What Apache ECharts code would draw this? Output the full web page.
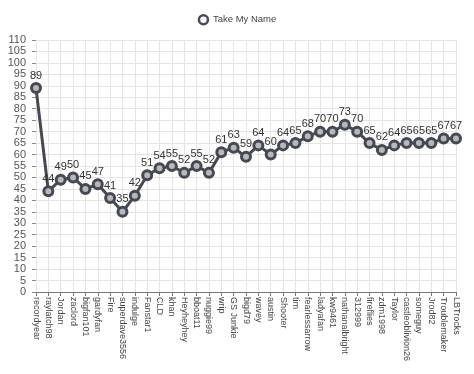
<!DOCTYPE html>
<html><head><meta charset="utf-8">
<script src="https://cdn.jsdelivr.net/npm/echarts@6/dist/echarts.min.js"></script>
<style>html,body{margin:0;padding:0;background:#fff}#c{width:474px;height:374px}</style>
</head><body><div id="c"></div>
<script>
const categories = ["recordyear","raylatch98","Jordan","zaclord","bigfan101","gardyfan","Fire","superdave3556","indulge","Fanstar1","CLD","khan","Heyheyhey","bboat11","nuggie99","wrip","GS Junkie","bigd79","wavey","austin","Shooter","tim","fearlessarrow","ladyafan","kw9461","nathanalbright","312999","fireflies","zdm1998","Taylor","castleoblivion26","someguy","Jrod82","Troublemaker","LBTrocks"];
const values = [89,44,49,50,45,47,41,35,42,51,54,55,52,55,52,61,63,59,64,60,64,65,68,70,70,73,70,65,62,64,65,65,65,67,67];
const seriesName = "Take My Name";
const chart = echarts.init(document.getElementById('c'));
chart.setOption({
  animation: false,
  textStyle: {fontFamily: 'Liberation Sans, Arial, sans-serif'},
  legend: {top: 9, left: 'center', itemWidth: 9, itemHeight: 9, itemGap: 6,
    textStyle: {color: '#444', fontSize: 9.5},
    itemStyle: {color: '#fff', borderColor: '#464950', borderWidth: 2.5},
    data: [{name: seriesName, icon: 'circle'}]},
  grid: {left: 36, right: 18, top: 40, bottom: 82, containLabel: false},
  xAxis: {type: 'category', data: categories, boundaryGap: false,
    axisLine: {lineStyle: {color: '#777'}},
    axisTick: {length: 4, lineStyle: {color: '#777'}},
    axisLabel: {rotate: -90, fontSize: 9, color: '#444', margin: 5, interval: 0},
    splitLine: {show: true, lineStyle: {color: '#e4e4e4'}}},
  yAxis: {type: 'value', min: 0, max: 110, interval: 5,
    axisLine: {show: false},
    axisTick: {show: true, length: 4, lineStyle: {color: '#888'}},
    axisLabel: {fontSize: 11, color: '#555', margin: 10},
    splitLine: {lineStyle: {color: '#e4e4e4'}}},
  series: [{name: seriesName, type: 'line', data: values,
    symbol: 'circle', symbolSize: 9,
    lineStyle: {color: '#464950', width: 3},
    itemStyle: {color: '#b8b8bc', borderColor: '#464950', borderWidth: 3},
    label: {show: true, position: 'top', fontSize: 11, color: '#333', distance: 1}}]
});
</script></body></html>
